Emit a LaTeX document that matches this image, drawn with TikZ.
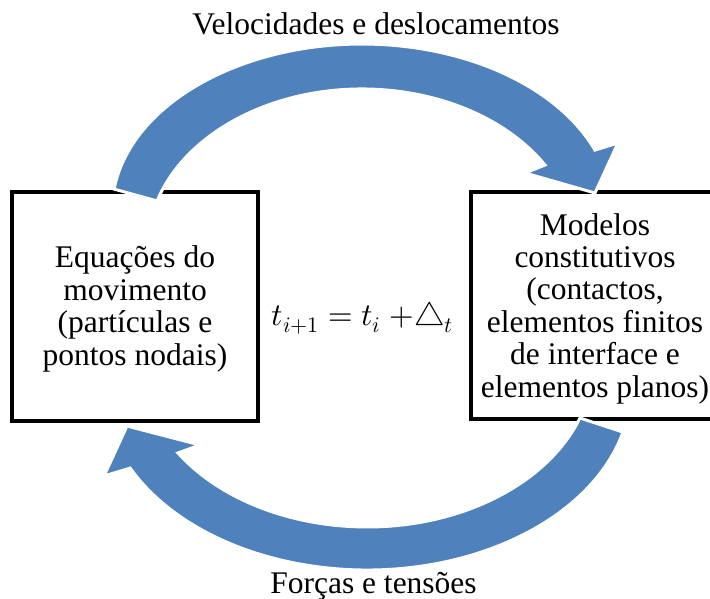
\documentclass[tikz,border=0pt]{standalone}
\usepackage{fontspec}
\usepackage{unicode-math}
\IfFontExistsTF{LiberationSerif-Regular.ttf}{\setmainfont{LiberationSerif-Regular.ttf}}{\setmainfont{Liberation Serif}}
\definecolor{arrowblue}{RGB}{79,129,189}
\begin{document}
\begin{tikzpicture}[x=1pt,y=-1pt,
  box/.style={draw=black, line width=4pt, fill=white, inner sep=0pt},
  txt/.style={align=center, font=\rmfamily\fontsize{31.5}{32.4}\selectfont, inner sep=0pt},
  bigarrow/.style={fill=arrowblue, draw=white, line width=3pt, line join=miter}]
\useasboundingbox (0,0) rectangle (710,599);
\clip (0,0) rectangle (710,599);
% boxes
\node[box, minimum width=246pt, minimum height=229pt] (L) at (135,306.5) {};
\node[box, minimum width=248pt, minimum height=227pt] (R) at (595,305.5) {};
\node[txt, yshift=-2.5pt] (Ltxt) at (L.center) {Equações do\\movimento\\(partículas e\\pontos nodais)};
\node[txt, yshift=-3pt] (Rtxt) at (R.center) {Modelos\\constitutivos\\(contactos,\\elementos finitos\\de interface e\\elementos planos)};
% top arrow
\draw[bigarrow] (114.1,189.1)
  arc[start angle=-172.6, end angle=-21.3, x radius=250, y radius=166.5]
  -- (618,143) -- (595,193) -- (525,173) -- (545,165)
  arc[start angle=-31.5, end angle=-162.75, x radius=214.6, y radius=159.2]
  -- cycle;
% bottom arrow
\draw[bigarrow] (623,432.1)
  arc[start angle=14, end angle=153.9, x radius=263.8, y radius=181.9]
  -- (104,476) -- (127,426) -- (200,445) -- (178,453)
  arc[start angle=146.7, end angle=19.6, x radius=226.1, y radius=164]
  -- cycle;
% labels
\node[txt, anchor=base] (vel) at (376,35) {Velocidades e deslocamentos};
\node[txt, anchor=base] (forc) at (373.5,593) {Forças e tensões};
\node[anchor=base, inner sep=0pt, font=\fontsize{31.5}{36}\selectfont] (eq) at (362.5,325) {$t_{i+1} = t_i\;{+}\triangle_t$};
\end{tikzpicture}
\end{document}
